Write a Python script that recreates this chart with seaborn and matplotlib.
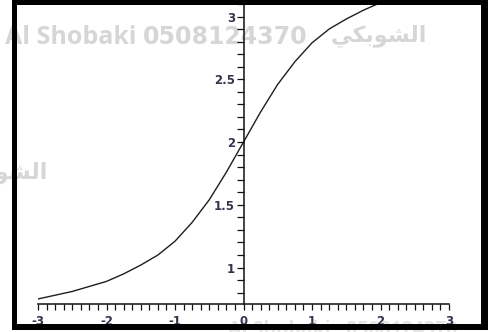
import matplotlib
matplotlib.use("Agg")
import matplotlib.pyplot as plt
from matplotlib.patches import Rectangle
from matplotlib.ticker import MultipleLocator, FixedLocator
import seaborn as sns
import pandas as pd

# Curve samples (x, y) of the plotted function
x_vals = [-3.0, -2.75, -2.5, -2.25, -2.0, -1.75, -1.5, -1.25, -1.0, -0.75,
          -0.5, -0.25, 0.0, 0.25, 0.5, 0.75, 1.0, 1.25, 1.5, 1.75, 2.0, 2.25]
y_vals = [0.75, 0.78, 0.81, 0.85, 0.89, 0.95, 1.02, 1.10, 1.21, 1.36,
          1.54, 1.76, 2.00, 2.24, 2.46, 2.64, 2.79, 2.90, 2.98, 3.05, 3.11, 3.15]

x_ticks = [-3, -2, -1, 0, 1, 2, 3]
x_tick_labels = ["-3", "-2", "-1", "0", "1", "2", "3"]
y_ticks = [1, 1.5, 2, 2.5, 3]
y_tick_labels = ["1", "1.5", "2", "2.5", "3"]

wm_name = "Al Shobaki"
wm_phone = "0508124370"
wm_arabic = "\uFEF2\uFEDC\uFE91\uFEEE\uFEB8\uFEDF\uFE8D"  # الشوبكي, visual order

sns.set_theme(style="white")
plt.rcParams["font.family"] = ["DejaVu Sans"]

W, H = 488, 332
fig = plt.figure(figsize=(W / 100, H / 100), dpi=100)
fig.patch.set_facecolor("white")


def fx(px):
    return px / W


def fy(py):
    return 1 - py / H


ymin, ymax = 0.71, 3.12
ax = fig.add_axes([fx(38), fy(304), fx(449) - fx(38), fy(1.44) - fy(304)])
ax.set_facecolor("none")

df = pd.DataFrame({"x": x_vals, "y": y_vals})
sns.lineplot(data=df, x="x", y="y", ax=ax, color="#1e1e1e", linewidth=1.0)

ax.set_xlim(-3, 3)
ax.set_ylim(ymin, ymax)
ax.set_xlabel("")
ax.set_ylabel("")

# Maple-style crossing axes
for s in ("top", "right"):
    ax.spines[s].set_visible(False)
ax.spines["left"].set_position(("data", 0))
for s in ("left", "bottom"):
    ax.spines[s].set_color("#111111")
    ax.spines[s].set_linewidth(1.1)

ax.xaxis.set_major_locator(FixedLocator(x_ticks))
ax.set_xticklabels(x_tick_labels)
ax.xaxis.set_minor_locator(MultipleLocator(0.125))
ax.yaxis.set_major_locator(FixedLocator(y_ticks))
ax.set_yticklabels(y_tick_labels)
ax.yaxis.set_minor_locator(MultipleLocator(0.1))

label_color = "#34344a"
ax.tick_params(axis="x", which="both", direction="out", length=4, width=0.9,
               color="#111111", bottom=True)
ax.tick_params(axis="x", which="major", pad=4, labelsize=8.5,
               labelcolor=label_color)
ax.tick_params(axis="y", which="both", direction="out", length=5, width=0.9,
               color="#111111", left=True)
ax.tick_params(axis="y", which="major", pad=1, labelsize=8.5,
               labelcolor=label_color)
for lab in ax.get_xticklabels() + ax.get_yticklabels():
    lab.set_fontweight("bold")

# Watermark text behind the plot
wm_color = "#d6d6d6"
fig.text(fx(5), fy(37), wm_name, family="Open Sans", weight="bold", fontsize=18,
         color=wm_color, ha="left", va="center", zorder=-1)
fig.text(fx(143), fy(37), wm_phone, family="DejaVu Sans", weight="bold",
         fontsize=17, color=wm_color, ha="left", va="center", zorder=-1)
fig.text(fx(427), fy(36), wm_arabic, family="DejaVu Sans", weight="bold",
         fontsize=16, color=wm_color, ha="right", va="center", zorder=-1)
fig.text(fx(48), fy(173), wm_arabic, family="DejaVu Sans", weight="bold",
         fontsize=16, color=wm_color, ha="right", va="center", zorder=-1)
fig.text(fx(228), fy(320), wm_name + "   " + wm_phone, family="Open Sans",
         weight="bold", fontsize=14, color="#e4e4e4", ha="left", va="top",
         zorder=-1)

# Black frame around the plot
frame = [
    (12, 0, 476, 4.5),     # top
    (12, 0, 5, 330),       # left
    (481, 0, 7, 330),      # right
    (12, 324, 476, 6),     # bottom
]
for x0, y0, w, h in frame:
    fig.add_artist(Rectangle((fx(x0), fy(y0 + h)), w / W, h / H,
                             transform=fig.transFigure, facecolor="black",
                             edgecolor="none", zorder=20))

fig.savefig("out.png", dpi=100, facecolor="white")
